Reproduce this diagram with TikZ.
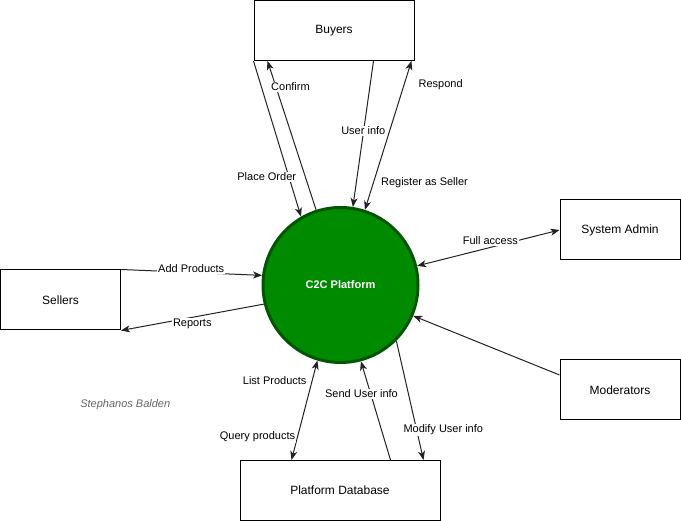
\documentclass[tikz,border=0pt]{standalone}
\usepackage{fontspec}
\setmainfont{Liberation Sans}
\usetikzlibrary{arrows.meta}
\definecolor{lineclr}{HTML}{222222}
\definecolor{cfill}{HTML}{008A00}
\definecolor{cstroke}{HTML}{005700}
\definecolor{sigclr}{HTML}{666666}
\tikzset{
  entity/.style={draw=black, line width=1pt, fill=white, minimum width=#1, minimum height=60pt, inner sep=0pt, font=\fontsize{12}{14}\selectfont},
  entity/.default=160pt,
  flow/.style={draw=lineclr, line width=1pt, -{Stealth[length=9pt,width=7pt,inset=2.5pt]}},
  bflow/.style={draw=lineclr, line width=1pt, {Stealth[length=9pt,width=7pt,inset=2.5pt]}-{Stealth[length=9pt,width=7pt,inset=2.5pt]}},
  plain/.style={draw=lineclr, line width=1pt},
  lbl/.style={fill=white, inner sep=1pt, font=\fontsize{11}{13}\selectfont, text=black},
}
\begin{document}
\begin{tikzpicture}[x=1pt,y=-1pt]
\useasboundingbox (0,0) rectangle (681,521);
% entities
\node[entity] (buyers) at (334,30.5) {Buyers};
\node[entity=120pt] (sellers) at (60.5,300) {Sellers};
\node[entity=120pt] (admin) at (620,230) {System Admin};
\node[entity=120pt] (mods) at (620,390) {Moderators};
\node[entity=200pt] (db) at (340,490.5) {Platform Database};
% process
\node[circle, draw=cstroke, fill=cfill, line width=3pt, minimum size=155pt, inner sep=0pt,
      text=white, font=\bfseries\fontsize{11}{13}\selectfont] (c2c) at (340.5,285) {C2C Platform};
% flows with buyers
\draw[flow] (buyers.south west) -- (c2c.120.7);
\draw[flow] (c2c.108.4) -- ([xshift=14pt]buyers.south west);
\draw[flow] ([xshift=120pt]buyers.south west) -- (c2c.81);
\draw[bflow] (c2c.72) -- ([xshift=158pt]buyers.south west);
% sellers
\draw[flow] (sellers.north east) -- (c2c.173.5);
\draw[flow] (c2c.194.4) -- (sellers.south east);
% admin and moderators
\draw[bflow] (c2c.14) -- (admin.west);
\draw[flow] ([yshift=15pt]mods.west) -- (c2c.337.7);
% database
\draw[bflow] (c2c.253) -- ([xshift=52pt]db.north west);
\draw[flow] ([xshift=151pt]db.north west) -- (c2c.285.4);
\draw[flow] (c2c.315) -- ([xshift=184pt]db.north west);
% labels
\node[lbl] (lconfirm) at (290.5,87) {Confirm};
\node[lbl] (luser) at (363.3,131) {User info};
\node[lbl] (lplace) at (266.7,177) {Place Order};
\node[lbl] (lreg) at (424.5,183) {Register as Seller};
\node[lbl] (lresp) at (440.7,85) {Respond};
\node[lbl] (ladd) at (191.2,269) {Add Products};
\node[lbl] (lrep) at (192.3,324) {Reports};
\node[lbl] (lfull) at (490.3,241) {Full access};
\node[lbl] (llist) at (274.7,381) {List Products};
\node[lbl] (lsend) at (361.5,394) {Send User info};
\node[lbl] (lquery) at (257.5,437) {Query products};
\node[lbl] (lmod) at (443.3,430) {Modify User info};
\node[font=\itshape\fontsize{11}{13}\selectfont, text=sigclr, inner sep=0pt] (sig) at (125.3,405) {Stephanos Balden};
\end{tikzpicture}
\end{document}
